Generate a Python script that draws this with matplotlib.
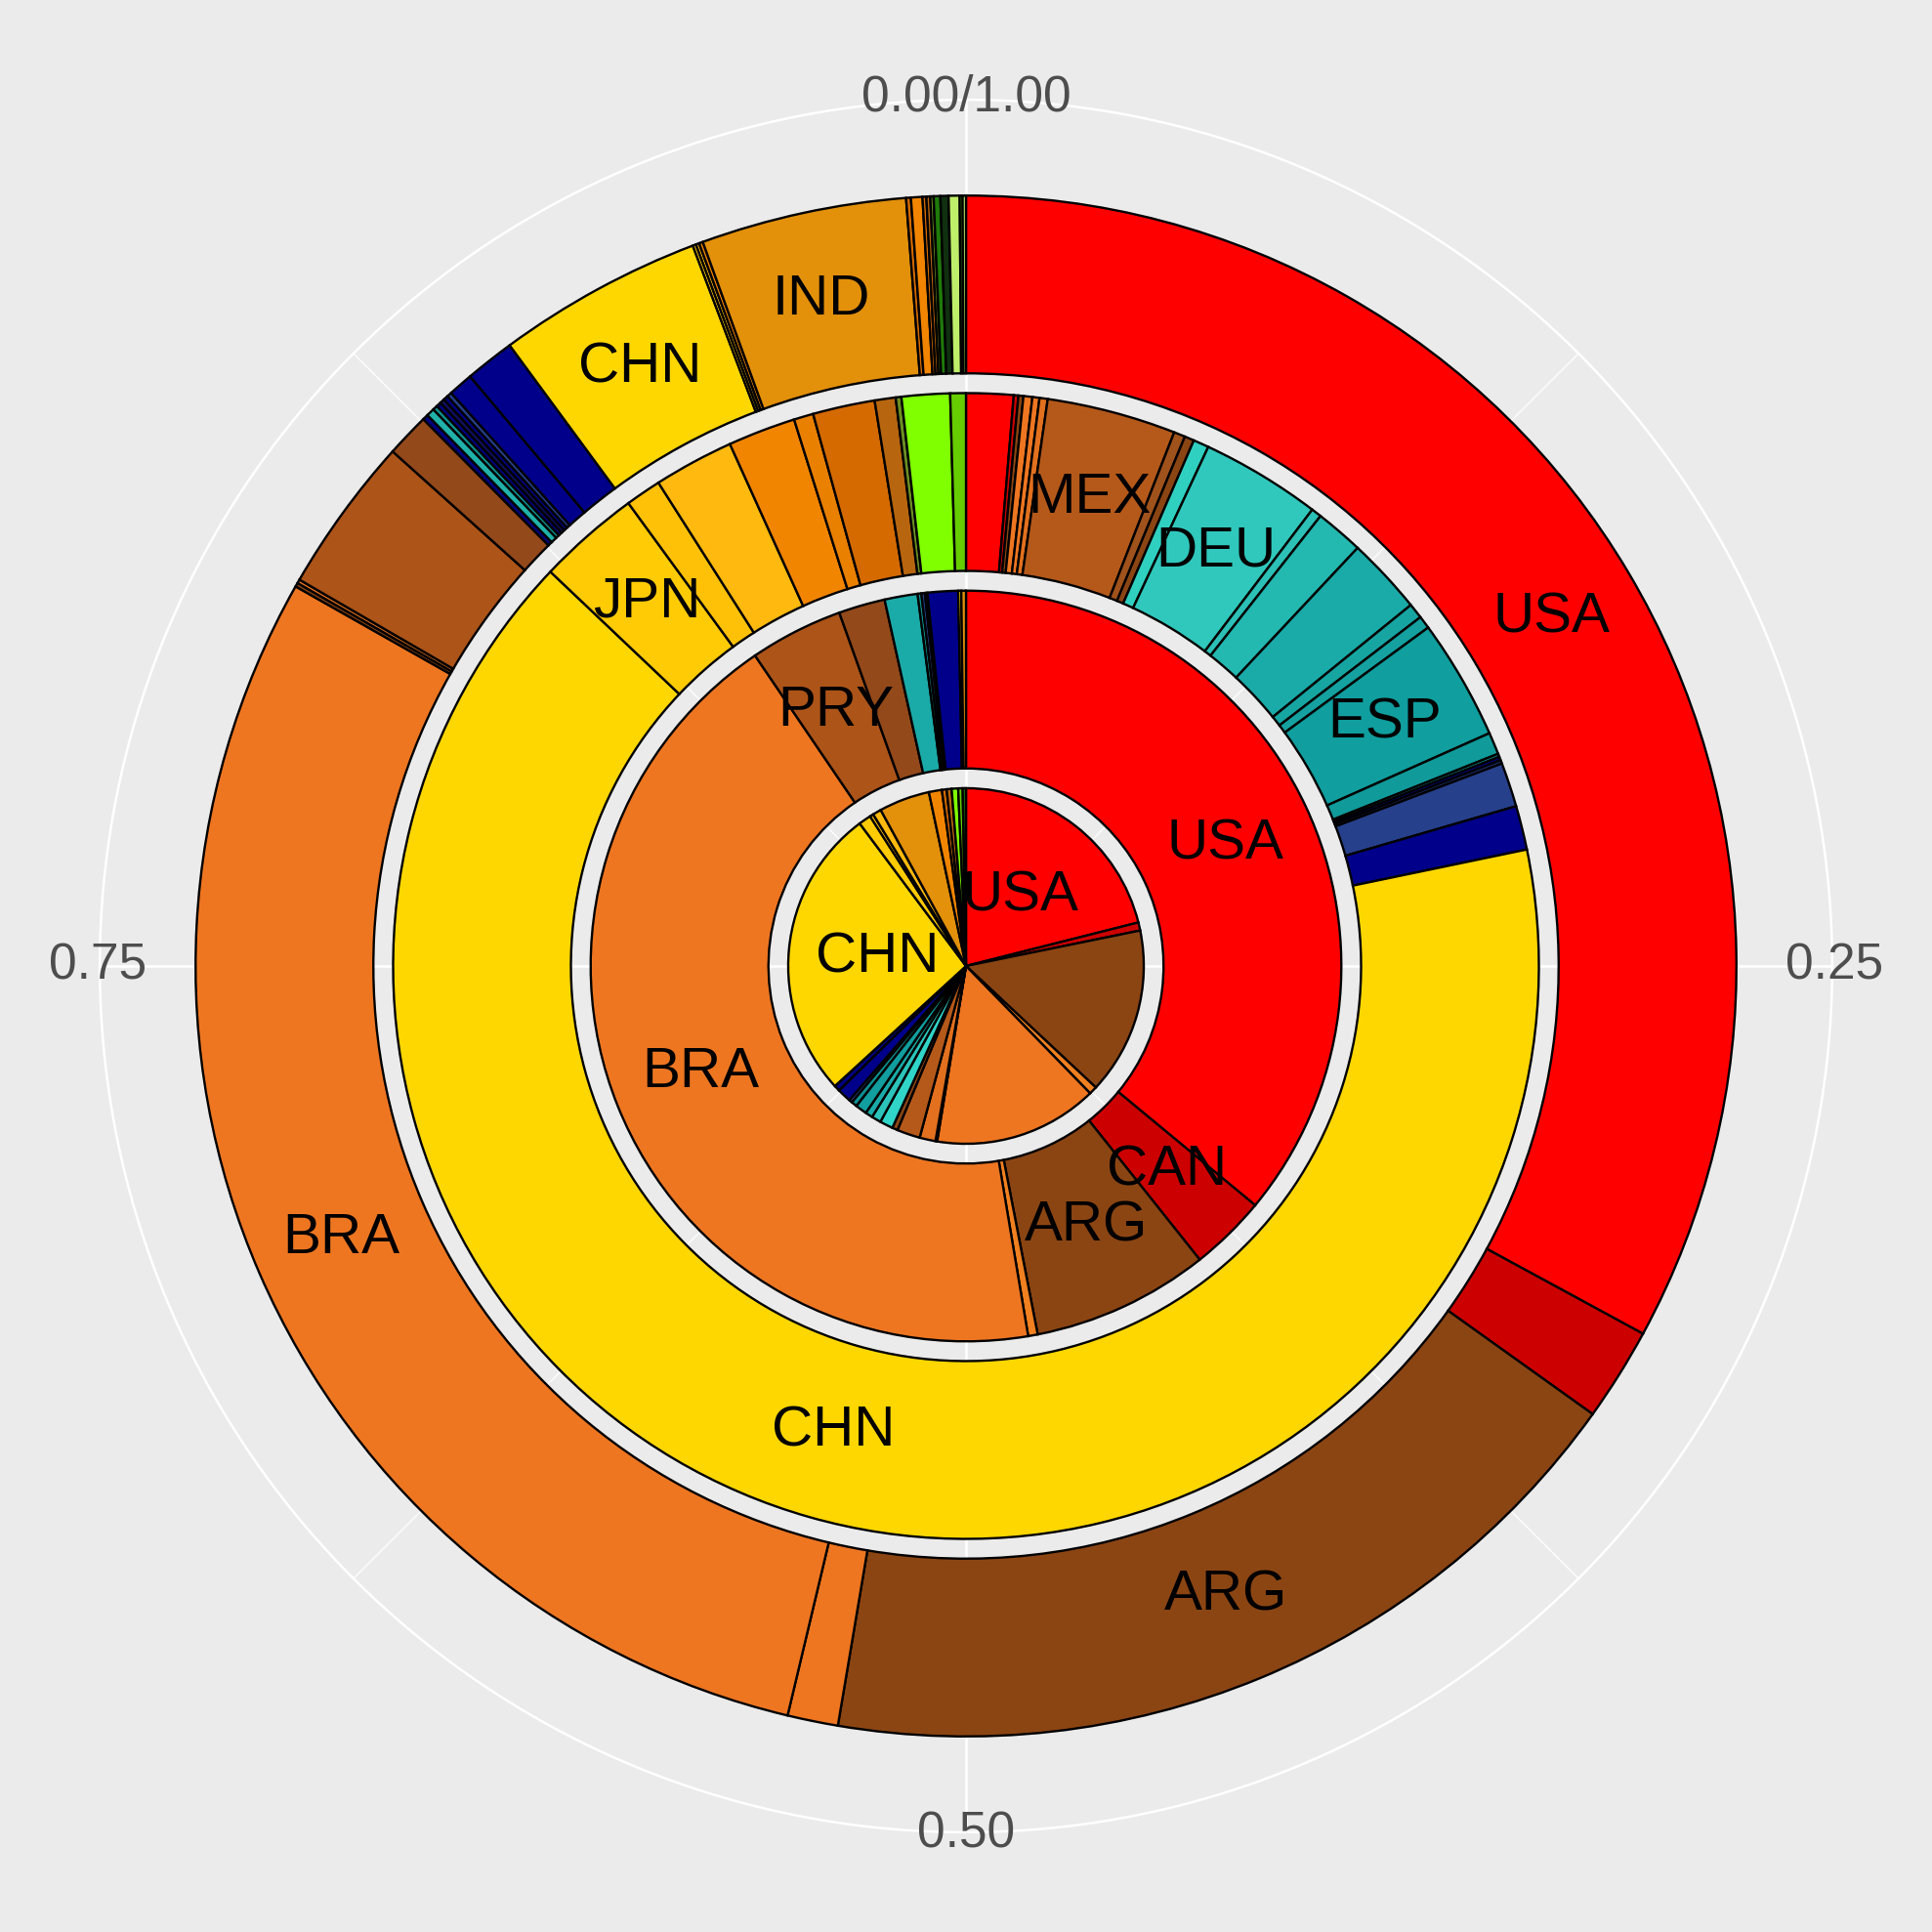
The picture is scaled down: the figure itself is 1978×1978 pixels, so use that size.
import numpy as np
import matplotlib.pyplot as plt

plt.rcParams['font.family'] = ['Liberation Sans', 'DejaVu Sans']

# shares (%) of each ring, clockwise from the top
ring1_names = ['USA', '', '', '', '', '', '', '', '', '', '', '', '', '', '', '', '',
               'CHN', '', '', '', '', '', '', '', '', '', '']
ring1_shares = [21.06, 0.74, 15.17, 0.73, 14.90, 0.15, 1.45, 2.10, 0.50, 1.20, 0.86, 0.67,
                1.05, 0.52, 0.30, 1.26, 0.54, 26.60, 1.13, 0.33, 0.78, 4.61, 1.18, 0.43,
                0.45, 0.59, 0.40, 0.30]
ring1_colors = ['#FF0000', '#CD0000', '#8B4513', '#F08020', '#EE7621', '#8B4513', '#E2701E',
                '#B5591A', '#8B4513', '#30D5C8', '#2CC4BA', '#1AABA8', '#129E9E', '#0E8F8F',
                '#27408B', '#00008B', '#000080', '#FFD700', '#FFCB05', '#FFC107', '#FFB90F',
                '#E3900B', '#F28500', '#D46A00', '#B8650F', '#7FFF00', '#66CD00', '#1F7A0A']

ring2_names = ['USA', 'CAN', 'ARG', '', 'BRA', 'PRY', '', '', '', '', '', '', '', '']
ring2_shares = [36.00, 3.30, 7.64, 0.41, 43.15, 4.02, 2.00, 1.42, 0.16, 0.15, 0.11, 1.31,
                0.13, 0.20]
ring2_colors = ['#FF0000', '#CD0000', '#8B4513', '#F08020', '#EE7621', '#AD5419', '#93491A',
                '#1AABA8', '#0E8F8F', '#27408B', '#000080', '#00008B', '#FFD700', '#E3900B']

ring3_names = ['', '', '', '', '', '', 'MEX', '', '', '', 'DEU', '', '', '', '', '', 'ESP',
               '', '', '', '', '', '', 'CHN', 'JPN', '', '', '', '', '', '', '', '', '']
ring3_shares = [1.33, 0.13, 0.14, 0.25, 0.20, 0.23, 3.64, 0.32, 0.27, 0.44, 3.38, 0.29,
                1.36, 2.17, 0.43, 0.36, 3.40, 0.62, 0.09, 0.10, 0.10, 1.25, 1.24, 65.34,
                2.89, 1.01, 2.26, 1.91, 0.55, 1.75, 0.59, 0.16, 1.36, 0.44]
ring3_colors = ['#FF0000', '#CD0000', '#8B4513', '#EE7621', '#EE7621', '#E2701E', '#B5591A',
                '#A0521C', '#8B4513', '#30D0C0', '#30C8BC', '#2CC0B6', '#23B8B0', '#1AABA8',
                '#17A5A2', '#14A1A0', '#109E9E', '#119A9A', '#0E8F8F', '#000080', '#1C2F70',
                '#27408B', '#00008B', '#FFD700', '#FFCB05', '#FFC107', '#FFB90F', '#F28500',
                '#E98000', '#D46A00', '#B8650F', '#6B8E23', '#7FFF00', '#66CD00']

ring4_names = ['USA', '', 'ARG', '', 'BRA', '', '', '', '', '', '', '', '', '', '', '', '',
               '', 'CHN', '', '', '', 'IND', '', '', '', '', '', '', '', '', '', '']
ring4_shares = [32.92, 1.96, 17.78, 1.06, 29.48, 0.08, 0.08, 3.28, 0.92, 0.12, 0.17, 0.10,
                0.10, 0.10, 0.10, 0.10, 0.52, 1.04, 4.32, 0.07, 0.07, 0.08, 4.31, 0.10,
                0.24, 0.08, 0.08, 0.07, 0.14, 0.17, 0.23, 0.06, 0.07]
ring4_colors = ['#FF0000', '#CD0000', '#8B4513', '#EE7621', '#EE7621', '#8B4513', '#E2701E',
                '#AD5419', '#93491A', '#000080', '#20B2AA', '#0E8F8F', '#000080', '#101060',
                '#000080', '#27408B', '#00008B', '#00008B', '#FFD700', '#FFCB05', '#FFB90F',
                '#F28500', '#E3900B', '#D46A00', '#F28500', '#D46A00', '#B8650F', '#6B8E23',
                '#1F7A0A', '#103010', '#BFEF6A', '#66CD00', '#BFEF6A']

rings = [
    (ring1_names, ring1_shares, ring1_colors),
    (ring2_names, ring2_shares, ring2_colors),
    (ring3_names, ring3_shares, ring3_colors),
    (ring4_names, ring4_shares, ring4_colors),
]

theta_breaks = [0, 0.25, 0.5, 0.75]
theta_labels = ['0.00/1.00', '0.25', '0.50', '0.75']

bg = '#EBEBEB'
fig = plt.figure(figsize=(19.78, 19.78), dpi=100, facecolor=bg)
ax = fig.add_axes([0, 0, 1, 1], projection='polar')
ax.set_facecolor(bg)
ax.set_theta_zero_location('N')
ax.set_theta_direction(-1)
ax.set_rlim(0.55, 5.44)
ax.grid(False)
ax.set_xticks([])
ax.set_yticks([])
ax.spines['polar'].set_visible(False)

# grid (under the bars)
r_grid = 4.935
for t in np.arange(0, 1, 0.125):
    major = round(t * 8) % 2 == 0
    ax.plot([2 * np.pi * t] * 2, [0.55, r_grid], color='white',
            lw=1.9 if major else 0.95, zorder=0.5, solid_capstyle='butt')
th = np.linspace(0, 2 * np.pi, 721)
ax.plot(th, np.full_like(th, r_grid), color='white', lw=1.8, zorder=0.5)

for lvl, (names, shares, colors) in enumerate(rings, start=1):
    s = np.array(shares) / np.sum(shares)
    starts = np.concatenate([[0], np.cumsum(s)[:-1]])
    ax.bar(2 * np.pi * starts, 0.9, width=2 * np.pi * s, bottom=lvl - 0.45,
           align='edge', color=colors, edgecolor='black', linewidth=1.7, zorder=2)
    for n, st, w in zip(names, starts, s):
        if n:
            ax.text(2 * np.pi * (st + w / 2), lvl, n, ha='center', va='center',
                    fontsize=42, color='black', zorder=5)

for t, lab in zip(theta_breaks, theta_labels):
    ax.text(2 * np.pi * t, 4.945, lab, ha='center', va='center',
            fontsize=37, color='#4D4D4D')

fig.savefig('out.png', dpi=100, facecolor=bg)
